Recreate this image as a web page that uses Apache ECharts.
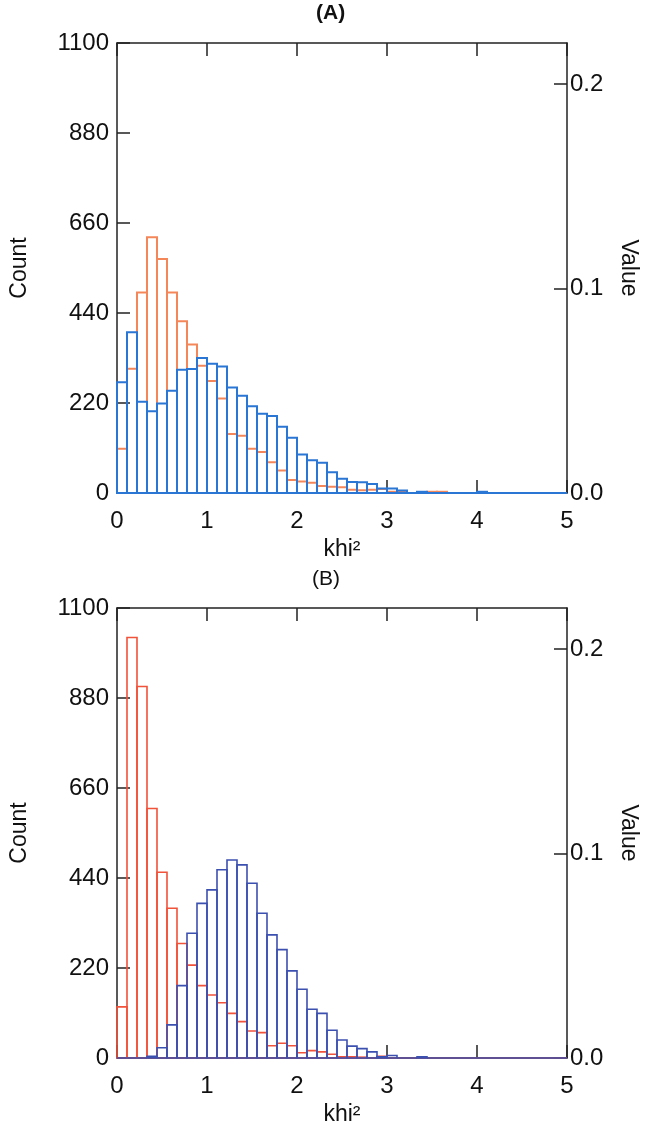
<!DOCTYPE html>
<html>
<head>
<meta charset="utf-8">
<script src="https://cdn.jsdelivr.net/npm/echarts@6/dist/echarts.min.js"></script>
<style>
html,body{margin:0;padding:0;background:#fff;}
#c{width:648px;height:1127px;}
</style>
</head>
<body>
<div id="c"></div>
<script>
// ---- data ----
const binWidth = 1 / 9;            // 45 bins over [0, 5]
const xTicks = [0, 1, 2, 3, 4, 5];
const countTicks = [0, 220, 440, 660, 880, 1100];
const valueTicks = [0.0, 0.1, 0.2];

// Panel (A)
const aOrange = [108, 304, 490, 625, 572, 490, 420, 363, 311, 274, 231, 144, 140, 108, 100, 75, 55, 32, 28, 25,
  17, 15, 14, 8, 7, 8, 10, 3, 4, 0, 2, 3, 3, 0, 0, 0, 0, 0, 0, 0, 0, 0, 0, 0, 0];
const aBlue = [271, 393, 223, 200, 219, 250, 301, 303, 330, 316, 309, 258, 238, 212, 194, 188, 162, 135, 94, 80,
  74, 51, 35, 27, 26, 22, 11, 11, 6, 0, 3, 0, 0, 0, 0, 0, 3, 0, 0, 0, 0, 0, 0, 0, 0];

// Panel (B)
const bRed = [125, 1028, 908, 610, 454, 366, 280, 227, 177, 154, 135, 109, 89, 66, 62, 30, 36, 30, 13, 18,
  15, 9, 3, 3, 2, 0, 4, 0, 0, 0, 0, 0, 0, 0, 0, 0, 0, 0, 0, 0, 0, 0, 0, 0, 0];
const bBlue = [0, 0, 0, 4, 25, 81, 177, 305, 378, 411, 460, 484, 472, 427, 354, 301, 265, 213, 168, 119,
  109, 68, 44, 29, 23, 15, 3, 6, 0, 0, 3, 0, 0, 0, 0, 0, 0, 0, 0, 0, 0, 0, 0, 0, 0];

// ---- chart ----
const FONT = "'Liberation Sans', Arial, sans-serif";
const TXT = '#111';
const chart = echarts.init(document.getElementById('c'), null, {renderer: 'canvas'});

function histSeries(values, color, lw, idx) {
  return {
    type: 'custom',
    xAxisIndex: idx * 2,
    yAxisIndex: idx * 2,
    data: values.map((v, i) => [i * binWidth, (i + 1) * binWidth, v]),
    encode: {x: [0, 1], y: 2},
    clip: false,
    renderItem: function (params, api) {
      const p0 = api.coord([api.value(0), api.value(2)]);
      const p1 = api.coord([api.value(1), 0]);
      return {
        type: 'rect',
        shape: {x: p0[0], y: p0[1], width: p1[0] - p0[0], height: p1[1] - p0[1]},
        style: {fill: null, stroke: color, lineWidth: lw}
      };
    }
  };
}

const grids = [
  {left: 114, top: 43, width: 454, height: 450},
  {left: 114, top: 608, width: 454, height: 450}
];

const xAxes = [], yAxes = [];
grids.forEach((g, i) => {
  const common = {
    gridIndex: i, type: 'value', min: xTicks[0], max: xTicks[xTicks.length - 1], interval: 1,
    splitLine: {show: false},
    axisLine: {show: true, onZero: false, lineStyle: {color: '#222', width: 1.5}},
    axisTick: {show: true, inside: true, length: 13, lineStyle: {color: '#222', width: 1.5}}
  };
  xAxes.push(Object.assign({}, common, {
    position: 'bottom',
    name: 'khi²', nameLocation: 'middle', nameGap: 45,
    nameTextStyle: {fontFamily: FONT, fontSize: 23, color: TXT},
    axisLabel: {fontFamily: FONT, fontSize: 24, color: TXT, margin: 16}
  }));
  xAxes.push(Object.assign({}, common, {
    position: 'top',
    axisLabel: {show: false}
  }));
  yAxes.push({
    gridIndex: i, type: 'value', position: 'left', min: 0, max: 1100, interval: 220,
    name: 'Count', nameLocation: 'middle', nameGap: 86,
    nameTextStyle: {fontFamily: FONT, fontSize: 23, color: TXT},
    splitLine: {show: false},
    axisLine: {show: true, onZero: false, lineStyle: {color: '#222', width: 1.5}},
    axisTick: {show: true, inside: true, length: 13, lineStyle: {color: '#222', width: 1.5}},
    axisLabel: {
      fontFamily: FONT, fontSize: 24, color: TXT, margin: 8,
      formatter: function (v) { return String(Math.round(v)); }
    }
  });
  yAxes.push({
    gridIndex: i, type: 'value', position: 'right', min: 0, max: 0.22, interval: 0.1,
    name: 'Value', nameLocation: 'middle', nameGap: 50, nameRotate: -90,
    nameTextStyle: {fontFamily: FONT, fontSize: 23, color: TXT},
    splitLine: {show: false},
    axisLine: {show: true, onZero: false, lineStyle: {color: '#222', width: 1.5}},
    axisTick: {show: true, inside: true, length: 13, lineStyle: {color: '#222', width: 1.5}},
    axisLabel: {
      fontFamily: FONT, fontSize: 24, color: TXT, margin: 3, showMaxLabel: false,
      formatter: function (v) {
        const hit = valueTicks.some(t => Math.abs(t - v) < 1e-9);
        return hit ? v.toFixed(1) : '';
      }
    }
  });
});

chart.setOption({
  animation: false,
  backgroundColor: '#fff',
  title: [
    {text: '(A)', left: 316, top: 3, padding: 0,
     textStyle: {fontFamily: FONT, fontSize: 21, fontWeight: 'bold', color: TXT}},
    {text: '(B)', left: 312, top: 569, padding: 0,
     textStyle: {fontFamily: FONT, fontSize: 21, fontWeight: 'normal', color: TXT}}
  ],
  grid: grids,
  xAxis: xAxes,
  yAxis: yAxes,
  series: [
    histSeries(aOrange, '#f4875a', 2, 0),
    histSeries(aBlue, '#2a76d4', 2, 0),
    histSeries(bRed, '#f0523a', 1.6, 1),
    histSeries(bBlue, '#3c50b0', 1.6, 1)
  ]
});
</script>
</body>
</html>
